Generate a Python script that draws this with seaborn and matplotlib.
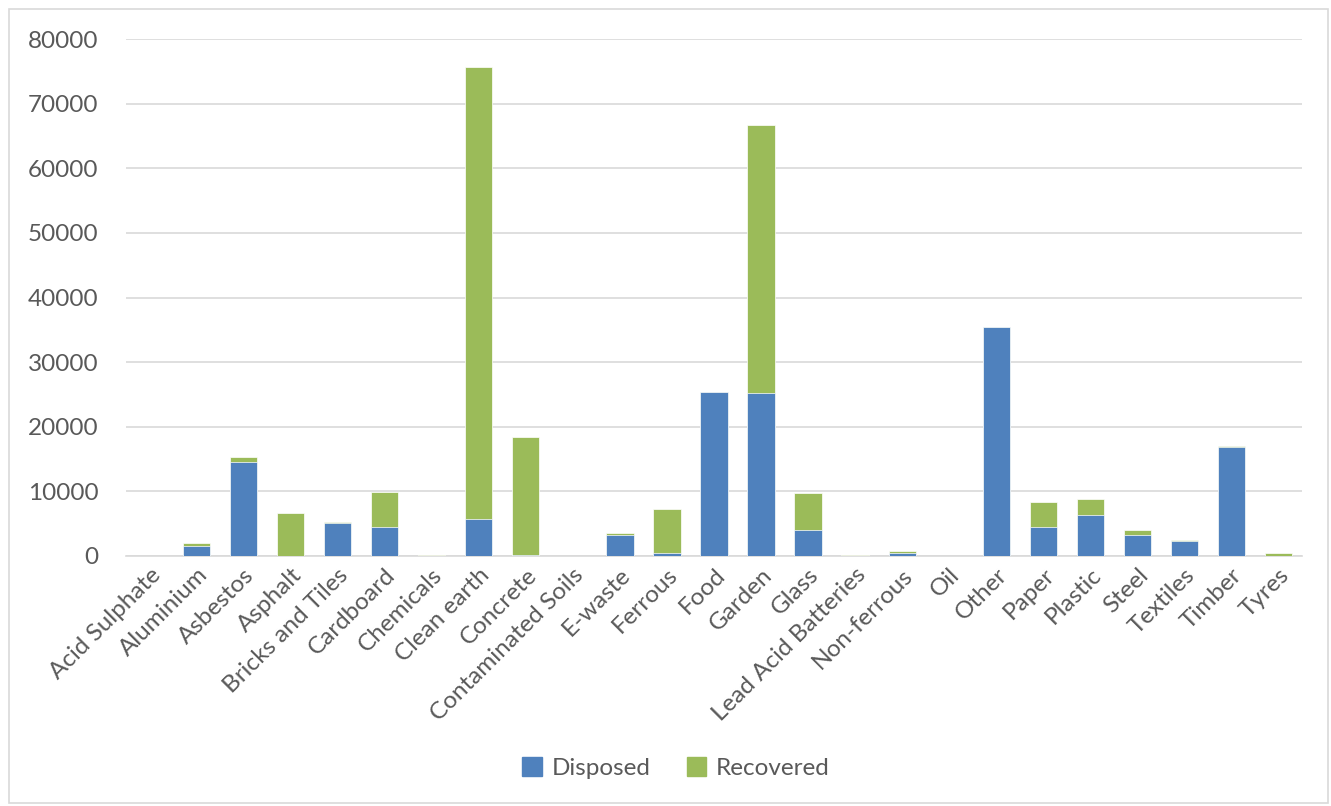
import matplotlib
matplotlib.use("Agg")
import matplotlib.pyplot as plt
import matplotlib.patches as mpatches
import numpy as np
import pandas as pd
import seaborn as sns

# ------------------------------------------------------------------------------
# Data (tonnes)
# ------------------------------------------------------------------------------
categories = [
    "Acid Sulphate", "Aluminium", "Asbestos", "Asphalt", "Bricks and Tiles",
    "Cardboard", "Chemicals", "Clean earth", "Concrete", "Contaminated Soils",
    "E-waste", "Ferrous", "Food", "Garden", "Glass", "Lead Acid Batteries",
    "Non-ferrous", "Oil", "Other", "Paper", "Plastic", "Steel", "Textiles",
    "Timber", "Tyres",
]
disposed = [
    0, 1600, 14600, 50, 5100,
    4540, 0, 5680, 100, 0,
    3250, 520, 25400, 25230, 4080, 0,
    410, 0, 35400, 4540, 6290, 3250, 2320,
    16870, 0,
]
recovered = [
    0, 360, 680, 6550, 160,
    5360, 150, 70000, 18300, 0,
    260, 6810, 0, 41500, 5620, 150,
    310, 0, 50, 3870, 2530, 720, 100,
    160, 460,
]
series_names = ["Disposed", "Recovered"]

BLUE = "#4F81BD"
GREEN = "#9BBB59"
TEXT = "#595959"
GRID = "#D9D9D9"

sns.set_theme(style="white")
plt.rcParams["font.family"] = ["Lato", "DejaVu Sans"]

df = pd.DataFrame({
    "category": categories,
    "disposed": disposed,
    "recovered": recovered,
})
df["total"] = df["disposed"] + df["recovered"]

W, H = 1331, 806
fig = plt.figure(figsize=(W / 100, H / 100), dpi=100)
fig.patch.set_facecolor("white")
ax = fig.add_axes([126 / W, 1 - 556 / H, (1302 - 126) / W, (556 - 39) / H])

# stacked look: total in green, disposed in blue drawn over it
sns.barplot(data=df, x="category", y="total", color=GREEN, width=0.58,
            saturation=1, ax=ax, edgecolor="white", linewidth=0.5, zorder=3)
sns.barplot(data=df, x="category", y="disposed", color=BLUE, width=0.58,
            saturation=1, ax=ax, edgecolor="white", linewidth=0.5, zorder=4)

ax.set_ylim(0, 80000)
ax.set_xlim(-0.5, len(categories) - 0.5)
ax.set_yticks(np.arange(0, 80001, 10000))
ax.yaxis.grid(True, color=GRID, linewidth=1.2, zorder=0)
ax.set_axisbelow(True)
for side in ["left", "right", "top"]:
    ax.spines[side].set_visible(False)
ax.spines["bottom"].set_color(GRID)
ax.spines["bottom"].set_linewidth(1.2)
ax.set_xlabel("")
ax.set_ylabel("")
ax.tick_params(axis="both", length=0, colors=TEXT, labelsize=17.5)
ax.tick_params(axis="y", pad=20)
ax.tick_params(axis="x", pad=6)
plt.setp(ax.get_xticklabels(), rotation=45, ha="right", rotation_mode="anchor")

handles = [mpatches.Patch(color=BLUE), mpatches.Patch(color=GREEN)]
fig.legend(handles, series_names, loc="center", ncol=2, frameon=False,
           bbox_to_anchor=(676 / W, 1 - 768 / H), fontsize=17.5,
           labelcolor=TEXT, handlelength=0.8, handleheight=0.8,
           handletextpad=0.4, columnspacing=1.5)

# chart area border
fig.patches.append(mpatches.Rectangle((9 / W, 3 / H), (W - 12) / W, (H - 12) / H,
                                      transform=fig.transFigure, fill=False,
                                      edgecolor=GRID, linewidth=1.2))

fig.savefig("out.png", dpi=100)
